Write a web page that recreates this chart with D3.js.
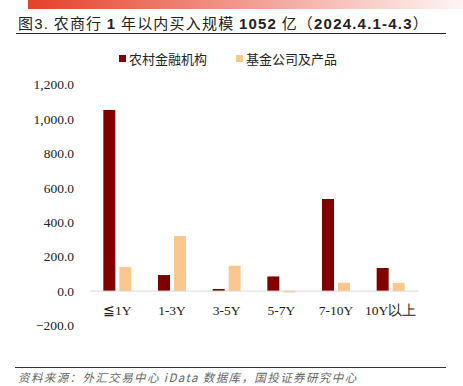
<!DOCTYPE html>
<html>
<head>
<meta charset="utf-8">
<script src="https://cdn.jsdelivr.net/npm/d3@7"></script>
<style>
  body { margin: 0; background: #fff; }
</style>
</head>
<body>
<div id="chart-container"></div>
<script>
// data
const categories = ["≦1Y", "1-3Y", "3-5Y", "5-7Y", "7-10Y", "10Y以上"];
const seriesNames = ["农村金融机构", "基金公司及产品"];
const ruralValues = [1052, 93, 12, 85, 535, 134];
const fundValues = [140, 320, 147, -8, 48, 48];
const yTicks = [-200, 0, 200, 400, 600, 800, 1000, 1200];

const colors = ["#800000", "#F8C88F"];
const width = 463;
const height = 386;

const svg = d3
  .select("#chart-container")
  .append("svg")
  .attr("width", width)
  .attr("height", height);

// top gradient strip
const grad = svg.append("defs").append("linearGradient").attr("id", "topbar");
grad.append("stop").attr("offset", "0%").attr("stop-color", "#E5402A");
grad.append("stop").attr("offset", "100%").attr("stop-color", "#E5402A").attr("stop-opacity", 0.05);
svg.append("rect").attr("x", 28).attr("y", 0).attr("width", width - 28).attr("height", 9).attr("fill", "url(#topbar)");

// title, digits bold in a latin face
const titleParts = [
  ["图", false], ["3.", "reg"], [" 农商行 ", false], ["1", true], [" 年以内买入规模 ", false],
  ["1052", true], [" 亿（", false], ["2024.4.1-4.3", true], ["）", false],
];
const title = svg
  .append("text")
  .attr("x", 18)
  .attr("y", 29)
  .attr("font-family", "'Noto Sans CJK SC', sans-serif")
  .attr("font-size", 15)
  .attr("letter-spacing", 1.2)
  .attr("fill", "#222");
titleParts.forEach(([t, bold]) => {
  const ts = title.append("tspan").text(t);
  if (bold) ts.attr("font-family", "'Liberation Sans', Arial, sans-serif");
  if (bold === true) ts.attr("font-weight", "bold");
});
svg.append("line").attr("x1", 16).attr("x2", 446).attr("y1", 33.5).attr("y2", 33.5).attr("stroke", "#222").attr("stroke-width", 1.2);

// legend
const legend = svg.append("g").attr("font-family", "'Noto Sans CJK SC', sans-serif").attr("font-size", 13);
[[119, 0], [236, 1]].forEach(([lx, i]) => {
  legend.append("rect").attr("x", lx).attr("y", 55).attr("width", 7).attr("height", 7).attr("fill", colors[i]);
  legend.append("text").attr("x", lx + 10).attr("y", 63.5).attr("fill", "#222").text(seriesNames[i]);
});

// scales
const x0 = d3.scaleBand().domain(categories).range([90, 418]);
const y = d3.scaleLinear().domain([-200, 1200]).range([325.5, 84.5]);

// y axis labels
svg
  .append("g")
  .attr("font-family", "'Liberation Serif', 'Times New Roman', serif")
  .attr("font-size", 13.5)
  .attr("text-anchor", "end")
  .selectAll("text")
  .data(yTicks)
  .join("text")
  .attr("x", 74)
  .attr("y", (d) => y(d))
  .attr("dy", "0.35em")
  .attr("fill", "#222")
  .text((d) => d3.format(",.1f")(d));

// bars
const barW = 12;
const gap = 4;
const series = [ruralValues, fundValues];
series.forEach((vals, si) => {
  svg
    .append("g")
    .selectAll("rect")
    .data(vals)
    .join("rect")
    .attr("x", (d, i) => x0(categories[i]) + x0.bandwidth() / 2 + (si === 0 ? -barW - gap / 2 : gap / 2))
    .attr("y", (d) => y(Math.max(0, d)))
    .attr("width", barW)
    .attr("height", (d) => Math.abs(y(d) - y(0)))
    .attr("fill", colors[si]);
});

// zero line
svg.append("line").attr("x1", 90).attr("x2", 419).attr("y1", y(0)).attr("y2", y(0)).attr("stroke", "#d9d9d9").attr("stroke-width", 1);

// x labels
svg
  .append("g")
  .attr("font-family", "'Liberation Serif', 'Times New Roman', serif")
  .attr("font-size", 13.5)
  .attr("text-anchor", "middle")
  .selectAll("text")
  .data(categories)
  .join("text")
  .attr("x", (d) => x0(d) + x0.bandwidth() / 2)
  .attr("y", 315)
  .attr("fill", "#222")
  .text((d) => d);

// footer
svg.append("line").attr("x1", 15).attr("x2", 446).attr("y1", 367.5).attr("y2", 367.5).attr("stroke", "#333").attr("stroke-width", 1.2);
svg
  .append("text")
  .attr("x", 18)
  .attr("y", 382)
  .attr("font-family", "'Noto Sans CJK SC', sans-serif")
  .attr("font-size", 11.5)
  .attr("font-style", "italic")
  .attr("letter-spacing", 1.4)
  .attr("fill", "#666")
  .text("资料来源：外汇交易中心 iData 数据库，国投证券研究中心");
</script>
</body>
</html>
